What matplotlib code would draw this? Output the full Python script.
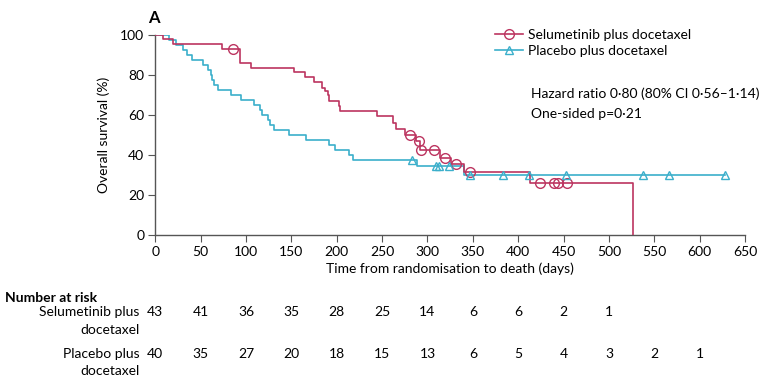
import numpy as np
import matplotlib
matplotlib.use("Agg")
import matplotlib.pyplot as plt
from matplotlib.lines import Line2D
import matplotlib.transforms as mtransforms

plt.rcParams['font.family'] = ['Lato', 'DejaVu Sans']

# Kaplan-Meier steps (day, % surviving after the step)
sel_days = [0, 8, 20, 74, 93, 106, 153, 165, 175, 184, 187, 190, 192, 202, 204,
            244, 262, 265, 275, 287, 292, 314, 326, 340, 413, 527]
sel_surv = [100, 97.7, 95.3, 93.0, 86.0, 83.6, 81.2, 78.8, 76.2, 73.5, 71.8, 70.0, 67.0, 64.5, 62.2,
            59.6, 55.8, 53.0, 50.0, 47.0, 42.3, 38.5, 35.3, 31.4, 25.8, 0]
sel_censor = [86, 281, 291, 293, 307, 319, 332, 347, 424, 440, 444, 454]

pla_days = [0, 15, 23, 31, 35, 40, 53, 58, 61, 63, 65, 69, 83, 94, 109, 115, 118, 124, 127,
            131, 147, 166, 192, 198, 213, 218, 289, 340, 628]
pla_surv = [100, 97.5, 95, 92.5, 90, 87.5, 85, 82.5, 80, 77.5, 75, 72.5, 70, 67.5, 65, 62.5, 60,
            57.5, 55, 52.5, 50, 47.5, 45, 42.5, 40, 37.5, 34.6, 30, 30]
pla_censor = [283, 309, 313, 324, 347, 383, 412, 453, 538, 566, 628]

risk_times = [0, 50, 100, 150, 200, 250, 300, 350, 400, 450, 500, 550, 600]
sel_risk = [43, 41, 36, 35, 28, 25, 14, 6, 6, 2, 1]
pla_risk = [40, 35, 27, 20, 18, 15, 13, 6, 5, 4, 3, 2, 1]

red = '#BC3560'
blue = '#3BAFCB'
grey = '#555555'


def at(days, surv, t):
    i = np.searchsorted(days, t, side='right') - 1
    return np.array(surv)[i]


fig = plt.figure(figsize=(7.61, 3.79), dpi=100)
ax = fig.add_axes([0.204, 0.38, 0.775, 0.528])

ax.step(sel_days, sel_surv, where='post', color=red, lw=1.2, zorder=3)
ax.step(pla_days, pla_surv, where='post', color=blue, lw=1.2, zorder=2)
ax.plot(sel_censor, at(sel_days, sel_surv, sel_censor), 'o', ms=7, mfc='none',
        mec=red, mew=1.0, zorder=4)
ax.plot(pla_censor, at(pla_days, pla_surv, pla_censor), '^', ms=6, mfc='none',
        mec=blue, mew=1.0, zorder=4)

ax.set_xlim(0, 650)
ax.set_ylim(0, 100)
ax.set_xticks(range(0, 651, 50))
ax.set_yticks(range(0, 101, 20))
for s in ['top', 'right']:
    ax.spines[s].set_visible(False)
for s in ['left', 'bottom']:
    ax.spines[s].set_color(grey)
    ax.spines[s].set_linewidth(1.0)
ax.tick_params(direction='out', length=5, color=grey, labelsize=10, pad=3)
ax.set_xlabel('Time from randomisation to death (days)', fontsize=10, labelpad=3)
ax.set_ylabel('Overall survival (%)', fontsize=10, labelpad=7)

handles = [Line2D([], [], color=red, marker='o', mfc='none', ms=7, lw=1.2),
           Line2D([], [], color=blue, marker='^', mfc='none', ms=6, lw=1.2)]
ax.legend(handles, ['Selumetinib plus docetaxel', 'Placebo plus docetaxel'],
          loc='upper left', bbox_to_anchor=(0.555, 1.09), frameon=False,
          fontsize=10, handlelength=2.0, handletextpad=0.4, labelspacing=0.25)

fig.text(0.698, 0.752, 'Hazard ratio 0·80 (80% CI 0·56–1·14)', fontsize=10, va='center')
fig.text(0.698, 0.699, 'One-sided p=0·21', fontsize=10, va='center')
fig.text(0.194, 0.952, 'A', fontsize=12, fontweight='bold', va='center')

# number at risk table
trans = mtransforms.blended_transform_factory(ax.transData, fig.transFigure)
fig.text(0.007, 0.213, 'Number at risk', fontsize=10, fontweight='bold', va='center')
fig.text(0.183, 0.176, 'Selumetinib plus', fontsize=10, ha='right', va='center')
fig.text(0.183, 0.128, 'docetaxel', fontsize=10, ha='right', va='center')
fig.text(0.183, 0.066, 'Placebo plus', fontsize=10, ha='right', va='center')
fig.text(0.183, 0.021, 'docetaxel', fontsize=10, ha='right', va='center')
for t, n in zip(risk_times, sel_risk):
    ax.text(t, 0.176, str(n), transform=trans, fontsize=10, ha='center', va='center')
for t, n in zip(risk_times, pla_risk):
    ax.text(t, 0.066, str(n), transform=trans, fontsize=10, ha='center', va='center')

fig.savefig('out.png', dpi=100)
